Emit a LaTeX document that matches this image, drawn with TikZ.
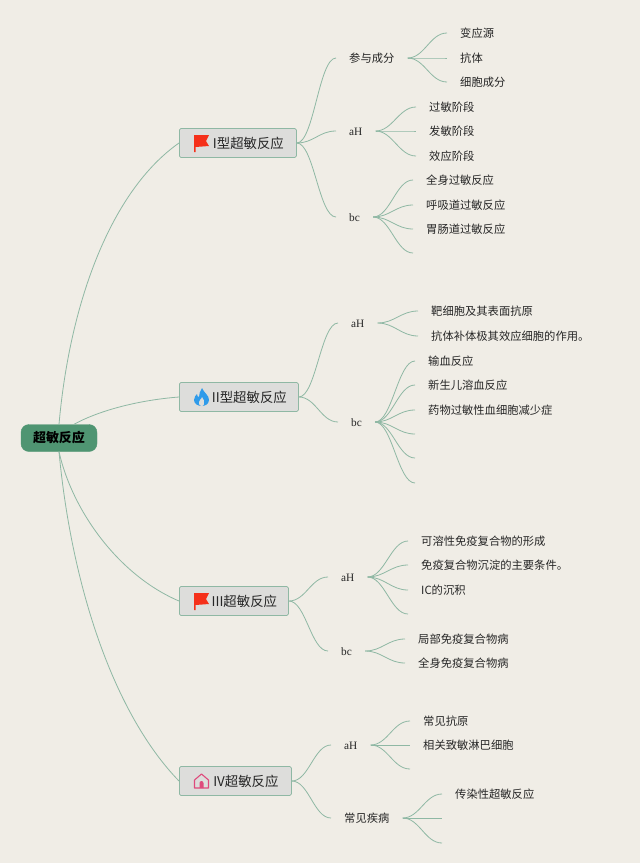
\documentclass[tikz,border=0pt]{standalone}
\usepackage{fontspec}
\setmainfont{Liberation Serif}
\newfontfamily\cjk{Noto Sans CJK SC}
\definecolor{page-bg}{HTML}{F0EDE6}
\definecolor{line-green}{HTML}{8FB8A4}
\definecolor{root-green}{HTML}{4F9572}
\definecolor{box-grey}{HTML}{DDDDDB}
\definecolor{ink}{HTML}{262626}
\definecolor{flag-red}{HTML}{F5301A}
\definecolor{flame-blue}{HTML}{2F9BEA}
\definecolor{home-pink}{HTML}{DF4A7C}
\tikzset{
  rootbox/.style={draw=root-green, fill=root-green, rounded corners=8pt,
    minimum width=76pt, minimum height=27pt, text=black,
    font=\cjk\bfseries\fontsize{13}{15}\selectfont},
  titlebox/.style={draw=line-green, fill=box-grey, rounded corners=1.5pt, line width=0.8pt,
    anchor=west, minimum height=29pt, text=ink, text height=12.5pt, text depth=1.7pt,
    font=\cjk\fontsize{13.4}{15}\selectfont},
  leaf/.style={anchor=west, inner xsep=13pt, inner ysep=1pt, text=ink,
    text height=11pt, text depth=1.4pt,
    font=\cjk\fontsize{11.3}{14}\selectfont},
  branch/.style={draw=line-green, line width=0.8pt},
  flow/.style={to path={.. controls +(17,0) and +(-17,0) .. (\tikztotarget)}},
  flagicon/.pic={
    \fill[flag-red] (0,8) -- (15,8) -- (12,2) -- (15,-3) -- (1.5,-4) -- (1.5,-9) -- (0,-9) -- cycle;
  },
  flameicon/.pic={
    \fill[flame-blue] (1,9) .. controls (3,4) and (8,2) .. (8,-3)
      .. controls (8,-7) and (4,-9) .. (1,-9)
      .. controls (-3,-9) and (-7,-7) .. (-7,-3)
      .. controls (-7,0) and (-5,2) .. (-4,3)
      .. controls (-4,1) and (-3,0) .. (-2,0)
      .. controls (-2,3) and (-1,6) .. (1,9) -- cycle;
    \fill[box-grey] (1,-9) .. controls (-2,-9) and (-3,-6) .. (-1,-3)
      .. controls (0,-2) and (1,-1) .. (1,0)
      .. controls (2,-2) and (4,-4) .. (3,-7)
      .. controls (3,-8) and (2,-9) .. (1,-9) -- cycle;
  },
  homeicon/.pic={
    \draw[home-pink, line width=1.1pt, line join=round]
      (-7,-7) -- (-7,1) -- (0,7) -- (7,1) -- (7,-7) -- cycle;
    \fill[home-pink] (-2,-7) -- (-2,-2) arc (180:0:2) -- (2,-7) -- cycle;
  }
}
\begin{document}
\begin{tikzpicture}[x=1pt, y=1pt]
    \fill[page-bg] (0,0) rectangle (640,-863);
    \useasboundingbox (0,0) rectangle (640,-863);
    % main topics
    \node[rootbox] (ROOT) at (59,-438) {超敏反应};
    \node[titlebox, minimum width=117pt] (T1) at (179,-143) {\hspace*{21pt}I型超敏反应};
    \node[titlebox, minimum width=119pt] (T2) at (179,-397) {\hspace*{21pt}II型超敏反应};
    \node[titlebox, minimum width=109pt] (T3) at (179,-601) {\hspace*{21pt}III超敏反应};
    \node[titlebox, minimum width=112pt] (T4) at (179,-781) {\hspace*{21pt}IV超敏反应};
    \pic at (194,-143) {flagicon};
    \pic at (201,-397) {flameicon};
    \pic at (201.5,-781) {homeicon};
    \pic at (194,-601) {flagicon};
    % first group
    \node[leaf] (T1A) at (336,-58) {参与成分};
    \node[leaf] (T1B) at (336,-131) {\normalfont aH};
    \node[leaf] (T1C) at (336,-217) {\normalfont bc};
    \node[leaf] (T1A1) at (447,-33) {变应源};
    \node[leaf] (T1A2) at (447,-58) {抗体};
    \node[leaf] (T1A3) at (447,-82) {细胞成分};
    \node[leaf] (T1B1) at (416,-107) {过敏阶段};
    \node[leaf] (T1B2) at (416,-131) {发敏阶段};
    \node[leaf] (T1B3) at (416,-156) {效应阶段};
    \node[leaf] (T1C1) at (413,-180) {全身过敏反应};
    \node[leaf] (T1C2) at (413,-205) {呼吸道过敏反应};
    \node[leaf] (T1C3) at (413,-229) {胃肠道过敏反应};
    \coordinate (T1C4) at (413,-253);
    % second group
    \node[leaf] (T2A) at (338,-323) {\normalfont aH};
    \node[leaf] (T2B) at (338,-422) {\normalfont bc};
    \node[leaf] (T2A1) at (418,-311) {靶细胞及其表面抗原};
    \node[leaf] (T2A2) at (418,-336) {抗体补体极其效应细胞的作用。};
    \node[leaf] (T2B1) at (415,-361) {输血反应};
    \node[leaf] (T2B2) at (415,-385) {新生儿溶血反应};
    \node[leaf] (T2B3) at (415,-410) {药物过敏性血细胞减少症};
    \coordinate (T2B4) at (415,-434);
    \coordinate (T2B5) at (415,-458);
    \coordinate (T2B6) at (415,-483);
    % third group
    \node[leaf] (T3A) at (328,-577) {\normalfont aH};
    \node[leaf] (T3B) at (328,-651) {\normalfont bc};
    \node[leaf] (T3A1) at (408,-541) {可溶性免疫复合物的形成};
    \node[leaf] (T3A2) at (408,-565) {免疫复合物沉淀的主要条件。};
    \node[leaf] (T3A3) at (408,-590) {IC的沉积};
    \coordinate (T3A4) at (408,-614);
    \node[leaf] (T3B1) at (405,-639) {局部免疫复合物病};
    \node[leaf] (T3B2) at (405,-663) {全身免疫复合物病};
    % fourth group
    \node[leaf] (T4A) at (331,-745) {\normalfont aH};
    \node[leaf] (T4B) at (331,-818) {常见疾病};
    \node[leaf] (T4A1) at (410,-721) {常见抗原};
    \node[leaf] (T4A2) at (410,-745) {相关致敏淋巴细胞};
    \coordinate (T4A3) at (410,-769);
    \node[leaf] (T4B1) at (442,-794) {传染性超敏反应};
    \coordinate (T4B2) at (442,-818);
    \coordinate (T4B3) at (442,-843);
    % connectors
    \draw[branch] (ROOT.north) .. controls (70,-300) and (112,-190) .. (T1.west);
    \draw[branch] ([xshift=15pt]ROOT.north) .. controls (100,-410) and (140,-400) .. (T2.west);
    \draw[branch] (ROOT.south) .. controls (72,-510) and (118,-575) .. (T3.west);
    \draw[branch] (ROOT.south) .. controls (72,-590) and (115,-715) .. (T4.west);
    \draw[branch] (T1.east) to[flow] (T1A.west);
    \draw[branch] (T1.east) to[flow] (T1B.west);
    \draw[branch] (T1.east) to[flow] (T1C.west);
    \draw[branch] (T1A.east) to[flow] (T1A1.west);
    \draw[branch] (T1A.east) to[flow] (T1A2.west);
    \draw[branch] (T1A.east) to[flow] (T1A3.west);
    \draw[branch] (T1B.east) to[flow] (T1B1.west);
    \draw[branch] (T1B.east) to[flow] (T1B2.west);
    \draw[branch] (T1B.east) to[flow] (T1B3.west);
    \draw[branch] (T1C.east) to[flow] (T1C1.west);
    \draw[branch] (T1C.east) to[flow] (T1C2.west);
    \draw[branch] (T1C.east) to[flow] (T1C3.west);
    \draw[branch] (T1C.east) to[flow] (T1C4);
    \draw[branch] (T2.east) to[flow] (T2A.west);
    \draw[branch] (T2.east) to[flow] (T2B.west);
    \draw[branch] (T2A.east) to[flow] (T2A1.west);
    \draw[branch] (T2A.east) to[flow] (T2A2.west);
    \draw[branch] (T2B.east) to[flow] (T2B1.west);
    \draw[branch] (T2B.east) to[flow] (T2B2.west);
    \draw[branch] (T2B.east) to[flow] (T2B3.west);
    \draw[branch] (T2B.east) to[flow] (T2B4);
    \draw[branch] (T2B.east) to[flow] (T2B5);
    \draw[branch] (T2B.east) to[flow] (T2B6);
    \draw[branch] (T3.east) to[flow] (T3A.west);
    \draw[branch] (T3.east) to[flow] (T3B.west);
    \draw[branch] (T3A.east) to[flow] (T3A1.west);
    \draw[branch] (T3A.east) to[flow] (T3A2.west);
    \draw[branch] (T3A.east) to[flow] (T3A3.west);
    \draw[branch] (T3A.east) to[flow] (T3A4);
    \draw[branch] (T3B.east) to[flow] (T3B1.west);
    \draw[branch] (T3B.east) to[flow] (T3B2.west);
    \draw[branch] (T4.east) to[flow] (T4A.west);
    \draw[branch] (T4.east) to[flow] (T4B.west);
    \draw[branch] (T4A.east) to[flow] (T4A1.west);
    \draw[branch] (T4A.east) to[flow] (T4A2.west);
    \draw[branch] (T4A.east) to[flow] (T4A3);
    \draw[branch] (T4B.east) to[flow] (T4B1.west);
    \draw[branch] (T4B.east) to[flow] (T4B2);
    \draw[branch] (T4B.east) to[flow] (T4B3);
\end{tikzpicture}
\end{document}
